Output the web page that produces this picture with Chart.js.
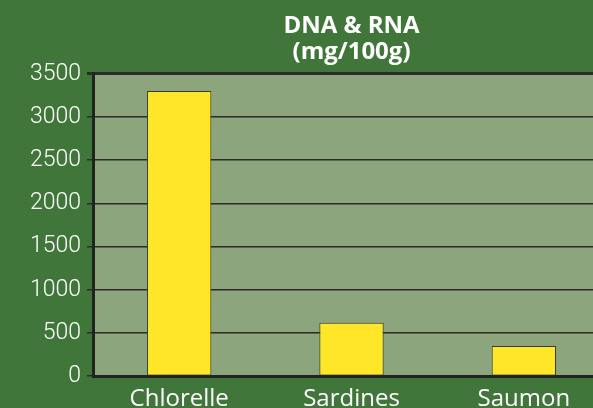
<!DOCTYPE html>
<html>
<head>
<meta charset="utf-8">
<script src="https://cdn.jsdelivr.net/npm/chart.js@4"></script>
<style>
  html, body { margin: 0; padding: 0; background: #41763a; overflow: hidden; }
  #wrap { width: 610px; height: 415px; }
</style>
</head>
<body>
<div id="wrap"><canvas id="chart"></canvas></div>
<script>
const foods = ["Chlorelle", "Sardines", "Saumon"];
const dnaRna = [3300, 620, 350];
const titleLines = ["DNA & RNA", "(mg/100g)"];

// fill the plot area with the lighter green
const plotBg = {
  id: "plotBg",
  beforeDraw(chart) {
    const { ctx, chartArea } = chart;
    ctx.save();
    ctx.fillStyle = "#8ca57d";
    ctx.fillRect(chartArea.left, chartArea.top, chartArea.right - chartArea.left, chartArea.bottom - chartArea.top);
    ctx.restore();
  }
};

const ctx = document.getElementById("chart").getContext("2d");
new Chart(ctx, {
  type: "bar",
  data: {
    labels: foods,
    datasets: [{
      data: dnaRna,
      backgroundColor: "#ffe629",
      borderColor: "#3a3a20",
      borderWidth: 1,
      borderSkipped: false,
      categoryPercentage: 1,
      barPercentage: 0.373
    }]
  },
  options: {
    responsive: true,
    maintainAspectRatio: false,
    animation: false,
    layout: { padding: { left: 24, top: 9, right: 0, bottom: 0 } },
    plugins: {
      legend: { display: false },
      tooltip: { enabled: false },
      title: {
        display: true,
        text: titleLines,
        color: "#ffffff",
        fullSize: false,
        font: { family: "'Open Sans'", size: 24, weight: "bold", lineHeight: 1.1 },
        padding: { top: 4, bottom: 8 }
      }
    },
    scales: {
      x: {
        grid: { display: false },
        border: { display: true, color: "#222222", width: 3 },
        ticks: {
          color: "#ffffff",
          padding: 1,
          font: { family: "'Open Sans'", size: 24 }
        }
      },
      y: {
        min: 0,
        max: 3500,
        ticks: {
          stepSize: 500,
          color: "#ffffff",
          padding: 6,
          font: { family: "Roboto", size: 23, weight: 300 },
          callback: v => String(v)
        },
        grid: {
          color: "#2b2b2b",
          lineWidth: c => (c.tick && c.tick.value === 3500 ? 3 : 1.5),
          tickLength: 6
        },
        border: { display: true, color: "#222222", width: 3 }
      }
    }
  },
  plugins: [plotBg]
});
</script>
</body>
</html>
